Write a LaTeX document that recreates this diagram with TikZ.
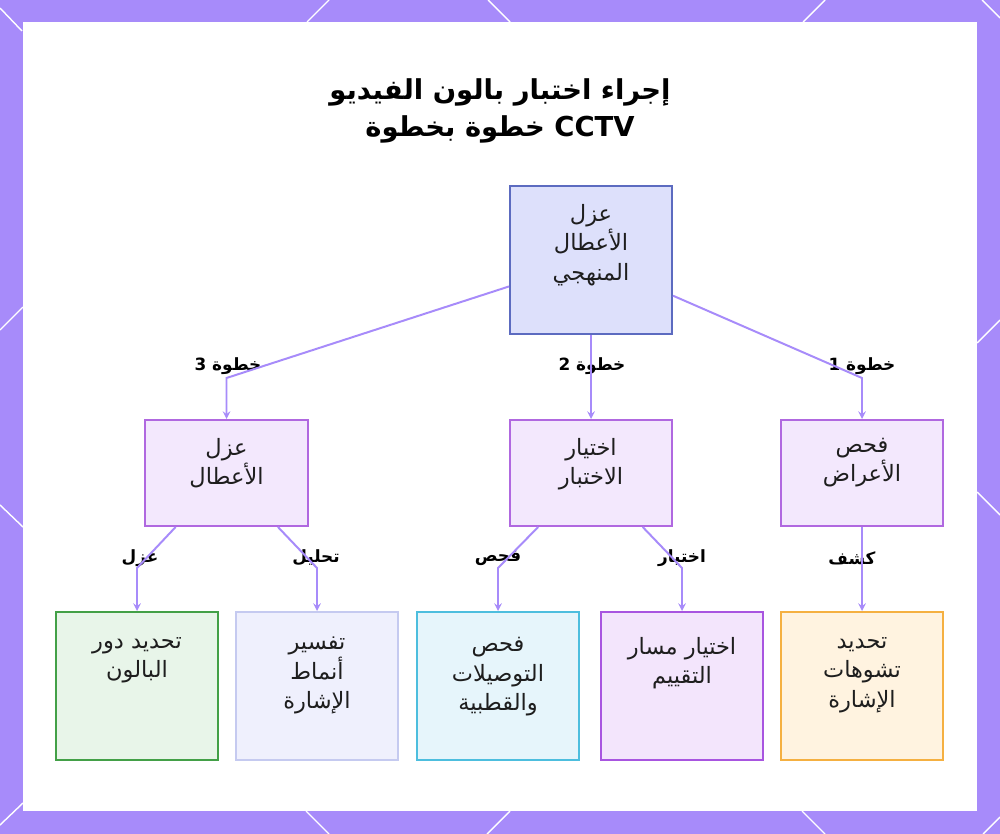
\documentclass[tikz,border=0pt]{standalone}
\usepackage{fontspec}
\usepackage{xcolor}
\usetikzlibrary{arrows, positioning}
\TeXXeTstate=1
\newfontfamily\arabicfont[Script=Arabic]{DejaVu Sans}
\newcommand{\artxt}[1]{\beginR #1\endR}
\definecolor{framecol}{RGB}{167,139,250}
\definecolor{linkcol}{RGB}{167,139,250}
\definecolor{textdark}{RGB}{30,30,30}
\definecolor{rootfill}{RGB}{221,224,251}
\definecolor{rootline}{RGB}{92,107,192}
\definecolor{stepfill}{RGB}{243,232,253}
\definecolor{stepline}{RGB}{176,104,224}
\definecolor{greenfill}{RGB}{232,245,233}
\definecolor{greenline}{RGB}{67,160,71}
\definecolor{lavfill}{RGB}{239,240,253}
\definecolor{lavline}{RGB}{197,202,240}
\definecolor{cyanfill}{RGB}{230,245,251}
\definecolor{cyanline}{RGB}{77,190,222}
\definecolor{violfill}{RGB}{243,229,252}
\definecolor{violline}{RGB}{168,85,224}
\definecolor{orangefill}{RGB}{255,243,224}
\definecolor{orangeline}{RGB}{245,176,65}
\tikzstyle{box} = [rectangle, draw, line width=1.4pt, minimum width=4.05cm, minimum height=3.7cm, inner sep=0pt]
\tikzstyle{stepbox} = [box, minimum height=2.65cm, draw=stepline, fill=stepfill]
\tikzstyle{boxtext} = [align=center, font=\arabicfont\fontsize{16}{21}\selectfont, text=textdark, inner sep=2pt]
\tikzstyle{steplabel} = [font=\arabicfont\bfseries\fontsize{12}{14}\selectfont, inner sep=1pt]
\tikzstyle{link} = [line width=1.4pt, draw=linkcol, ->, >=stealth]
\tikzstyle{edge} = [white, line width=1pt]

\begin{document}
\begin{tikzpicture}[x=0.025cm, y=-0.025cm, node distance=0.4cm]
      % frame
      \useasboundingbox (0,0) rectangle (1000,834);
      \fill[framecol] (0,0) rectangle (1000,834);
      \fill[white] (23,22) rectangle (977,811);
      \draw[edge] (0,8) -- (22,31);
      \draw[edge] (329,0) -- (307,22);
      \draw[edge] (488,0) -- (510,22);
      \draw[edge] (825,0) -- (803,22);
      \draw[edge] (982,0) -- (1000,18);
      \draw[edge] (0,330) -- (23,307);
      \draw[edge] (0,505) -- (23,527);
      \draw[edge] (0,825) -- (23,803);
      \draw[edge] (977,343) -- (1000,320);
      \draw[edge] (977,492) -- (1000,515);
      \draw[edge] (306,811) -- (329,834);
      \draw[edge] (487,834) -- (510,811);
      \draw[edge] (802,811) -- (825,834);
      \draw[edge] (983,834) -- (1000,817);
      % title
      \node (title) [align=center, font=\arabicfont\bfseries\fontsize{19.5}{26}\selectfont] at (500,111)
            {\artxt{إجراء اختبار بالون الفيديو}\\ \artxt{\beginL CCTV\endL{} خطوة بخطوة}};
      % boxes
      \node (root) [box, draw=rootline, fill=rootfill] at (591,260) {};
      \node (isolate) [stepbox] at (226.5,473) {};
      \node (choose) [stepbox] at (591,473) {};
      \node (symptom) [stepbox] at (862,473) {};
      \node (balun) [box, draw=greenline, fill=greenfill] at (137,686) {};
      \node (pattern) [box, draw=lavline, fill=lavfill] at (317,686) {};
      \node (wiring) [box, draw=cyanline, fill=cyanfill] at (498,686) {};
      \node (path) [box, draw=violline, fill=violfill] at (682,686) {};
      \node (distort) [box, draw=orangeline, fill=orangefill] at (862,686) {};
      % texts
      \node (roott) [boxtext, below=of root.north] {\artxt{عزل}\\ \artxt{الأعطال}\\ \artxt{المنهجي}};
      \node (isolatet) [boxtext, below=of isolate.north] {\artxt{عزل}\\ \artxt{الأعطال}};
      \node (chooset) [boxtext, below=of choose.north] {\artxt{اختيار}\\ \artxt{الاختبار}};
      \node (symptomt) [boxtext, below=of symptom.north] {\artxt{فحص}\\ \artxt{الأعراض}};
      \node (balunt) [boxtext, below=0.58cm of balun.north] {\artxt{تحديد دور}\\ \artxt{البالون}};
      \node (patternt) [boxtext, below=0.58cm of pattern.north] {\artxt{تفسير}\\ \artxt{أنماط}\\ \artxt{الإشارة}};
      \node (wiringt) [boxtext, below=0.58cm of wiring.north] {\artxt{فحص}\\ \artxt{التوصيلات}\\ \artxt{والقطبية}};
      \node (patht) [boxtext, below=0.58cm of path.north] {\artxt{اختيار مسار}\\ \artxt{التقييم}};
      \node (distortt) [boxtext, below=0.58cm of distort.north] {\artxt{تحديد}\\ \artxt{تشوهات}\\ \artxt{الإشارة}};
      % bends and labels
      \coordinate (b3) at (226.5,378);
      \coordinate (b2) at (591,378);
      \coordinate (b1) at (862,378);
      \node (l3) [steplabel] at (228,366) {\artxt{خطوة 3}};
      \node (l2) [steplabel] at (592,366) {\artxt{خطوة 2}};
      \node (l1) [steplabel] at (862,366) {\artxt{خطوة 1}};
      \coordinate (c1) at (137,568);
      \coordinate (c2) at (317,568);
      \coordinate (c3) at (498,568);
      \coordinate (c4) at (682,568);
      \coordinate (c5) at (862,568);
      \node (k1) [steplabel] at (140,558) {\artxt{عزل}};
      \node (k2) [steplabel] at (316,558) {\artxt{تحليل}};
      \node (k3) [steplabel] at (498,558) {\artxt{فحص}};
      \node (k4) [steplabel] at (682,558) {\artxt{اختيار}};
      \node (k5) [steplabel] at (852,558) {\artxt{كشف}};
      % connectors
      \draw [link] (root) -- (b3) -- (isolate);
      \draw [link] (root) -- (b2) -- (choose);
      \draw [link] (root) -- (b1) -- (symptom);
      \draw [link] (isolate) -- (c1) -- (balun);
      \draw [link] (isolate) -- (c2) -- (pattern);
      \draw [link] (choose) -- (c3) -- (wiring);
      \draw [link] (choose) -- (c4) -- (path);
      \draw [link] (symptom) -- (c5) -- (distort);
\end{tikzpicture}
\end{document}
